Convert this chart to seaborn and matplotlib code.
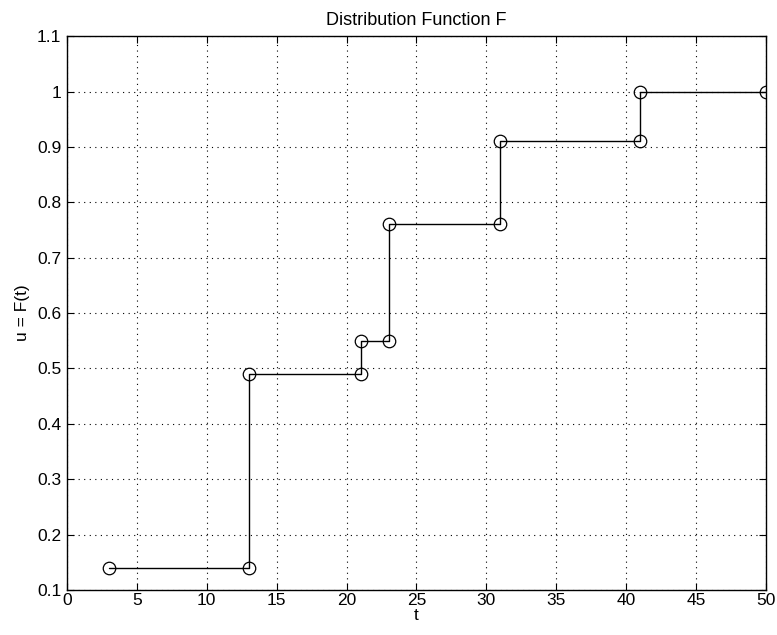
import seaborn as sns
import matplotlib.pyplot as plt
import pandas as pd

# corner points of the step function
t = [3, 13, 13, 21, 21, 23, 23, 31, 31, 41, 41, 50]
u = [0.14, 0.14, 0.49, 0.49, 0.55, 0.55, 0.76, 0.76, 0.91, 0.91, 1.0, 1.0]
xticks = list(range(0, 51, 5))
yticks = [0.1, 0.2, 0.3, 0.4, 0.5, 0.6, 0.7, 0.8, 0.9, 1.0, 1.1]
ylabels = ['0.1', '0.2', '0.3', '0.4', '0.5', '0.6', '0.7', '0.8', '0.9', '1', '1.1']

df = pd.DataFrame({'t': t, 'u': u})

sns.set_style('white', {'text.color': 'black', 'axes.labelcolor': 'black',
                        'xtick.color': 'black', 'ytick.color': 'black'})
plt.rcParams['font.family'] = ['Liberation Sans', 'DejaVu Sans']

fig = plt.figure(figsize=(7.77, 6.35), dpi=100)
ax = fig.add_axes([0.086, 0.071, 0.9, 0.872])

sns.lineplot(data=df, x='t', y='u', sort=False, estimator=None, ax=ax,
             color='black', linewidth=1.0, marker='o', markersize=9,
             markerfacecolor='none', markeredgecolor='black', markeredgewidth=0.9)

ax.set_xlim(0, 50)
ax.set_ylim(0.1, 1.1)
ax.set_xticks(xticks)
ax.set_yticks(yticks)
ax.set_yticklabels(ylabels)
ax.grid(True, linestyle=(0, (1, 4)), color='black', linewidth=0.8)
ax.tick_params(direction='in', length=5, labelsize=12.5, color='black',
               labelcolor='black', top=True, right=True, bottom=True, left=True)
ax.tick_params(axis='x', pad=2)
ax.tick_params(axis='y', pad=4)
for s in ax.spines.values():
    s.set_color('black')
    s.set_linewidth(1.0)
    s.set_visible(True)

ax.set_xlabel('t', fontsize=12.5, labelpad=0, color='black')
ax.set_ylabel('u = F(t)', fontsize=12.5, labelpad=5, color='black')
ax.set_title('Distribution Function F', fontsize=13, pad=8, color='black')

fig.savefig('out.png', dpi=100)
